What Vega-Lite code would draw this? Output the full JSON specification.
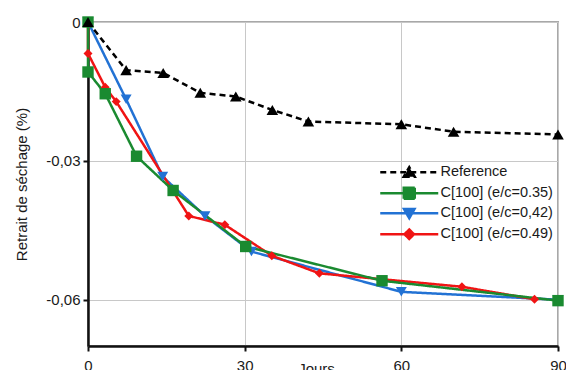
{
  "$schema": "https://vega.github.io/schema/vega-lite/v6.json",
  "width": 470,
  "height": 324,
  "autosize": "none",
  "padding": {"left": 88, "top": 22, "right": 8, "bottom": 24},
  "background": "white",
  "config": {
    "font": "Liberation Sans",
    "view": {"stroke": "#a8a8a8", "strokeWidth": 2},
    "axis": {
      "labelFont": "Liberation Sans",
      "titleFont": "Liberation Sans",
      "labelFontSize": 15,
      "titleFontSize": 15,
      "labelColor": "#1a1a1a",
      "titleColor": "#1a1a1a",
      "titleFontWeight": "normal",
      "domainColor": "#111111",
      "domainWidth": 2.5,
      "tickColor": "#111111",
      "tickWidth": 2,
      "tickSize": 5,
      "gridColor": "#c8c8c8",
      "gridWidth": 1
    },
    "legend": {
      "labelFont": "Liberation Sans",
      "labelFontSize": 14.5,
      "labelColor": "#1a1a1a"
    }
  },
  "data": {
    "values": [
      {"s": "C[100] (e/c=0,42)", "i": 0, "j": 0, "r": 0},
      {"s": "C[100] (e/c=0,42)", "i": 1, "j": 7.3, "r": -0.0167},
      {"s": "C[100] (e/c=0,42)", "i": 2, "j": 14.3, "r": -0.0334},
      {"s": "C[100] (e/c=0,42)", "i": 3, "j": 22.4, "r": -0.0419},
      {"s": "C[100] (e/c=0,42)", "i": 4, "j": 31.3, "r": -0.0496},
      {"s": "C[100] (e/c=0,42)", "i": 5, "j": 60, "r": -0.0583},
      {"s": "C[100] (e/c=0,42)", "i": 6, "j": 90, "r": -0.0600},
      {"s": "C[100] (e/c=0.49)", "i": 0, "j": 0, "r": 0},
      {"s": "C[100] (e/c=0.49)", "i": 1, "j": 0, "r": -0.0068},
      {"s": "C[100] (e/c=0.49)", "i": 2, "j": 3.3, "r": -0.0141},
      {"s": "C[100] (e/c=0.49)", "i": 3, "j": 5.4, "r": -0.0172},
      {"s": "C[100] (e/c=0.49)", "i": 4, "j": 19.3, "r": -0.0419},
      {"s": "C[100] (e/c=0.49)", "i": 5, "j": 26.2, "r": -0.0438},
      {"s": "C[100] (e/c=0.49)", "i": 6, "j": 35.2, "r": -0.0505},
      {"s": "C[100] (e/c=0.49)", "i": 7, "j": 44.3, "r": -0.0543},
      {"s": "C[100] (e/c=0.49)", "i": 8, "j": 71.6, "r": -0.0572},
      {"s": "C[100] (e/c=0.49)", "i": 9, "j": 85.5, "r": -0.0599},
      {"s": "C[100] (e/c=0.35)", "i": 0, "j": 0, "r": 0},
      {"s": "C[100] (e/c=0.35)", "i": 1, "j": 0, "r": -0.0108},
      {"s": "C[100] (e/c=0.35)", "i": 2, "j": 3.3, "r": -0.0155},
      {"s": "C[100] (e/c=0.35)", "i": 3, "j": 9.3, "r": -0.0290},
      {"s": "C[100] (e/c=0.35)", "i": 4, "j": 16.3, "r": -0.0364},
      {"s": "C[100] (e/c=0.35)", "i": 5, "j": 30.2, "r": -0.0485},
      {"s": "C[100] (e/c=0.35)", "i": 6, "j": 56.3, "r": -0.0559},
      {"s": "C[100] (e/c=0.35)", "i": 7, "j": 90, "r": -0.0602},
      {"s": "Reference", "i": 0, "j": 0, "r": 0},
      {"s": "Reference", "i": 1, "j": 7.3, "r": -0.0104},
      {"s": "Reference", "i": 2, "j": 14.4, "r": -0.0110},
      {"s": "Reference", "i": 3, "j": 21.5, "r": -0.0153},
      {"s": "Reference", "i": 4, "j": 28.3, "r": -0.0161},
      {"s": "Reference", "i": 5, "j": 35.3, "r": -0.0190},
      {"s": "Reference", "i": 6, "j": 42.2, "r": -0.0215},
      {"s": "Reference", "i": 7, "j": 60, "r": -0.0221},
      {"s": "Reference", "i": 8, "j": 70, "r": -0.0237},
      {"s": "Reference", "i": 9, "j": 90, "r": -0.0243}
    ]
  },
  "encoding": {
    "x": {
      "field": "j", "type": "quantitative",
      "scale": {"domain": [0, 90], "nice": false, "zero": false},
      "axis": {
        "values": [0, 30, 60, 90],
        "title": "Jours",
        "titleX": 228,
        "titleY": 15,
        "titleBaseline": "top",
        "titleAnchor": null,
        "labelPadding": 7,
        "labelFlush": false
      }
    },
    "y": {
      "field": "r", "type": "quantitative",
      "scale": {"domain": [-0.07, 0], "nice": false, "zero": false},
      "axis": {
        "values": [-0.06, -0.03, 0],
        "title": "Retrait de séchage (%)",
        "titlePadding": 16,
        "labelPadding": 3,
        "labelFlush": false,
        "labelExpr": "datum.value == 0 ? '0' : '-' + replace(format(-datum.value, '.2f'), '.', ',')"
      }
    },
    "color": {
      "field": "s", "type": "nominal",
      "scale": {
        "domain": ["Reference", "C[100] (e/c=0.35)", "C[100] (e/c=0,42)", "C[100] (e/c=0.49)"],
        "range": ["#000000", "#1a8a30", "#2272d4", "#f01414"]
      },
      "legend": {
        "title": null,
        "orient": "none",
        "legendX": 314,
        "legendY": 143,
        "padding": 0,
        "rowPadding": 0,
        "symbolSize": 100,
        "symbolStrokeWidth": 2.5,
        "labelOffset": 24,
        "encode": {
          "symbols": {
            "update": {
              "shape": {"signal": "datum.value === 'Reference' ? 'M-5.8,0H5.8M-1.1,0.9L1.1,0.9L0,-1Z' : datum.value === 'C[100] (e/c=0.35)' ? 'M-5.8,0H5.8M-1.1,-1.1H1.1V1.1H-1.1Z' : datum.value === 'C[100] (e/c=0,42)' ? 'M-5.8,0H5.8M-1.05,-0.85L1.05,-0.85L0,1Z' : 'M-5.8,0H5.8M0,-0.95L0.95,0L0,0.95L-0.95,0Z'"},
              "fill": {"signal": "scale('color', datum.value)"},
              "stroke": {"signal": "scale('color', datum.value)"},
              "strokeWidth": {"value": 2.5},
              "strokeDash": {"signal": "datum.value === 'Reference' ? [6, 4] : [1, 0]"},
              "opacity": {"value": 1}
            }
          }
        }
      }
    }
  },
  "layer": [
    {
      "mark": {"type": "line", "strokeWidth": 2.5},
      "encoding": {
        "order": {"field": "i", "type": "quantitative"},
        "strokeDash": {
          "field": "s", "type": "nominal",
          "scale": {
            "domain": ["Reference", "C[100] (e/c=0.35)", "C[100] (e/c=0,42)", "C[100] (e/c=0.49)"],
            "range": [[6, 4], [1, 0], [1, 0], [1, 0]]
          },
          "legend": null
        }
      }
    },
    {
      "transform": [{"filter": "datum.s === 'C[100] (e/c=0,42)'"}],
      "mark": {"type": "point", "filled": true, "opacity": 1, "shape": "triangle-down", "size": 120}
    },
    {
      "transform": [{"filter": "datum.s === 'C[100] (e/c=0.49)'"}],
      "mark": {"type": "point", "filled": true, "opacity": 1, "shape": "diamond", "size": 80}
    },
    {
      "transform": [{"filter": "datum.s === 'C[100] (e/c=0.35)'"}],
      "mark": {"type": "point", "filled": true, "opacity": 1, "shape": "square", "size": 130}
    },
    {
      "transform": [{"filter": "datum.s === 'Reference'"}],
      "mark": {"type": "point", "filled": true, "opacity": 1, "shape": "triangle-up", "size": 135}
    }
  ]
}
